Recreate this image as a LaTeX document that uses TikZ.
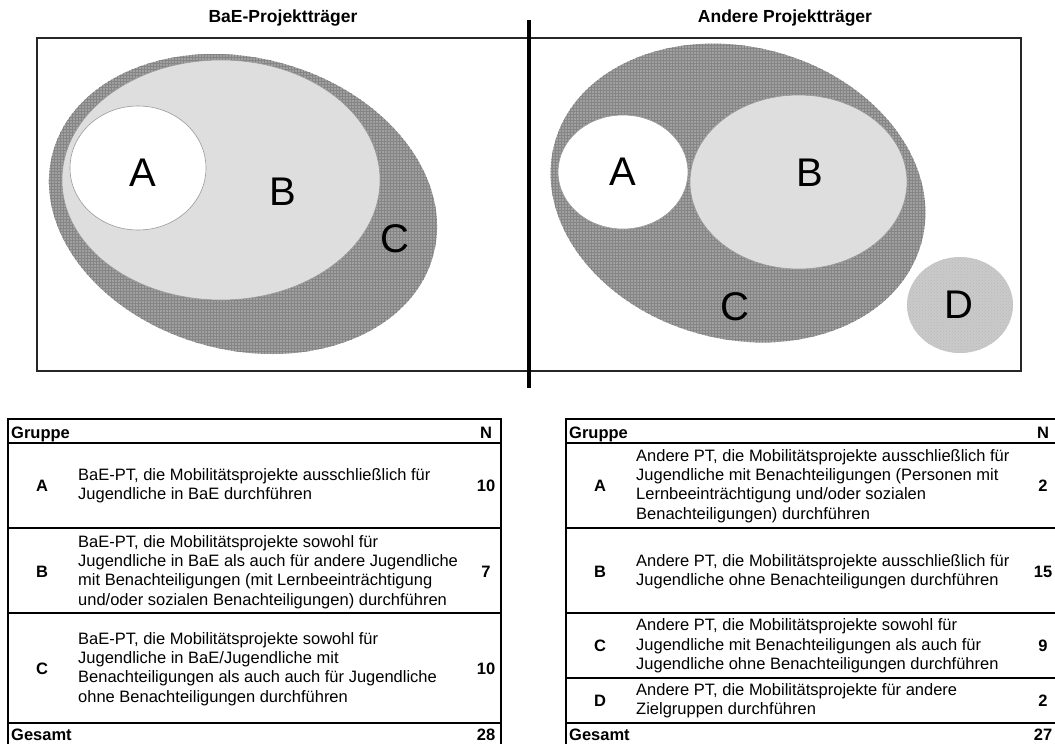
\documentclass[tikz,border=0pt]{standalone}
\usepackage{fontspec}
\setmainfont{Liberation Sans}
\usetikzlibrary{patterns}
\definecolor{cgray}{HTML}{A0A0A0}
\definecolor{cpat}{HTML}{858585}
\definecolor{bgray}{HTML}{DEDEDE}
\definecolor{dgray}{HTML}{CACACA}
\definecolor{dpat}{HTML}{B8B8B8}
\definecolor{edge}{HTML}{9A9A9A}
\begin{document}
\begin{tikzpicture}[x=1pt,y=-1pt,
  tbtext/.style={anchor=west,align=left,inner sep=0pt,font=\fontsize{16.5}{19.3}\selectfont},
  tbletter/.style={inner sep=0pt,font=\fontsize{16.5}{19.3}\selectfont\bfseries},
  tbnum/.style={inner sep=0pt,font=\fontsize{16.5}{19.3}\selectfont\bfseries},
  tbhead/.style={inner sep=0pt,anchor=base west,font=\fontsize{16.5}{19.3}\selectfont\bfseries},
  bigletter/.style={inner sep=0pt,font=\fontsize{40}{42}\selectfont},
  titletext/.style={inner sep=0pt,font=\fontsize{17.5}{20}\selectfont\bfseries},
  tbrule/.style={draw=black,line width=1.5pt},
  setC/.style={fill=cgray},
  setCpat/.style={pattern=grid,pattern color=cpat},
  setB/.style={fill=bgray,draw=edge,line width=0.6pt},
  setA/.style={fill=white,draw=edge,line width=0.6pt},
  setD/.style={fill=dgray},
  setDpat/.style={pattern=crosshatch dots,pattern color=dpat},
]
\useasboundingbox (0,0) rectangle (1055,744);
\clip (0,0) rectangle (1055,744);

% titles
\node[titletext] (t1) at (283,18) {BaE-Projektträger};
\node[titletext] (t2) at (785,18) {Andere Projektträger};

% frame
\draw[line width=1.4pt,draw=black!85] (37,38) rectangle (1021,371);

% left Venn
\begin{scope}[rotate around={-15:(243,204)}]
\fill[setC] (243,204) ellipse [x radius=197pt, y radius=146pt];
\fill[setCpat] (243,204) ellipse [x radius=197pt, y radius=146pt];
\end{scope}
\draw[setB] (221,180) ellipse [x radius=159pt, y radius=120pt];
\draw[setA] (138,168) ellipse [x radius=68pt, y radius=62pt];
\node[bigletter] (lA) at (143,173) {A};
\node[bigletter] (lB) at (283,192) {B};
\node[bigletter] (lC) at (395,239) {C};

% right Venn
\begin{scope}[rotate around={-15:(738,193)}]
\fill[setC] (738,193) ellipse [x radius=190pt, y radius=146pt];
\fill[setCpat] (738,193) ellipse [x radius=190pt, y radius=146pt];
\end{scope}
\draw[setA] (623,172) ellipse [x radius=65pt, y radius=57pt];
\draw[setB] (798.5,182) ellipse [x radius=108.5pt, y radius=87pt];
\fill[setD] (960,305) ellipse [x radius=53pt, y radius=48pt];
\fill[setDpat] (960,305) ellipse [x radius=53pt, y radius=48pt];
\node[bigletter] (rA) at (623,172) {A};
\node[bigletter] (rB) at (810,173) {B};
\node[bigletter] (rC) at (735,307) {C};
\node[bigletter] (rD) at (959,305) {D};

% divider
\draw[line width=4.5pt] (529,20) -- (529,388);

% left table
\draw[tbrule] (8,419) rectangle (501,443);
\draw[tbrule] (8,443) rectangle (501,528);
\draw[tbrule] (8,528) rectangle (501,613);
\draw[tbrule] (8,613) rectangle (501,723);
\draw[tbrule] (8,723) rectangle (501,760);
\node[tbhead] (lg) at (11,438) {Gruppe};
\node[tbnum,anchor=base] (ln) at (486,438) {N};
\node[tbletter] (laL) at (42,486) {A};
\node[tbtext] (laT) at (78,486) {BaE-PT, die Mobilitätsprojekte ausschließlich für\\Jugendliche in BaE durchführen};
\node[tbnum] (laN) at (486,486) {10};
\node[tbletter] (lbL) at (42,572) {B};
\node[tbtext] (lbT) at (78,572) {BaE-PT, die Mobilitätsprojekte sowohl für\\Jugendliche in BaE als auch für andere Jugendliche\\mit Benachteiligungen (mit Lernbeeinträchtigung\\und/oder sozialen Benachteiligungen) durchführen};
\node[tbnum] (lbN) at (486,572) {7};
\node[tbletter] (lcL) at (42,669) {C};
\node[tbtext] (lcT) at (78,669) {BaE-PT, die Mobilitätsprojekte sowohl für\\Jugendliche in BaE/Jugendliche mit\\Benachteiligungen als auch auch für Jugendliche\\ohne Benachteiligungen durchführen};
\node[tbnum] (lcN) at (486,669) {10};
\node[tbhead] (lges) at (11,740) {Gesamt};
\node[tbnum,anchor=base] (lgesN) at (486,740) {28};

% right table
\draw[tbrule] (566,419) rectangle (1070,443);
\draw[tbrule] (566,443) rectangle (1070,528);
\draw[tbrule] (566,528) rectangle (1070,613);
\draw[tbrule] (566,613) rectangle (1070,678);
\draw[tbrule] (566,678) rectangle (1070,723);
\draw[tbrule] (566,723) rectangle (1070,760);
\node[tbhead] (rg) at (569,438) {Gruppe};
\node[tbnum,anchor=base] (rn) at (1043,438) {N};
\node[tbletter] (raL) at (600,486) {A};
\node[tbtext] (raT) at (636,486) {Andere PT, die Mobilitätsprojekte ausschließlich für\\Jugendliche mit Benachteiligungen (Personen mit\\Lernbeeinträchtigung und/oder sozialen\\Benachteiligungen) durchführen};
\node[tbnum] (raN) at (1043,486) {2};
\node[tbletter] (rbL) at (600,572) {B};
\node[tbtext] (rbT) at (636,572) {Andere PT, die Mobilitätsprojekte ausschließlich für\\Jugendliche ohne Benachteiligungen durchführen};
\node[tbnum] (rbN) at (1043,572) {15};
\node[tbletter] (rcL) at (600,646) {C};
\node[tbtext] (rcT) at (636,646) {Andere PT, die Mobilitätsprojekte sowohl für\\Jugendliche mit Benachteiligungen als auch für\\Jugendliche ohne Benachteiligungen durchführen};
\node[tbnum] (rcN) at (1043,646) {9};
\node[tbletter] (rdL) at (600,701) {D};
\node[tbtext] (rdT) at (636,701) {Andere PT, die Mobilitätsprojekte für andere\\Zielgruppen durchführen};
\node[tbnum] (rdN) at (1043,701) {2};
\node[tbhead] (rges) at (569,740) {Gesamt};
\node[tbnum,anchor=base] (rgesN) at (1043,740) {27};
\end{tikzpicture}
\end{document}
